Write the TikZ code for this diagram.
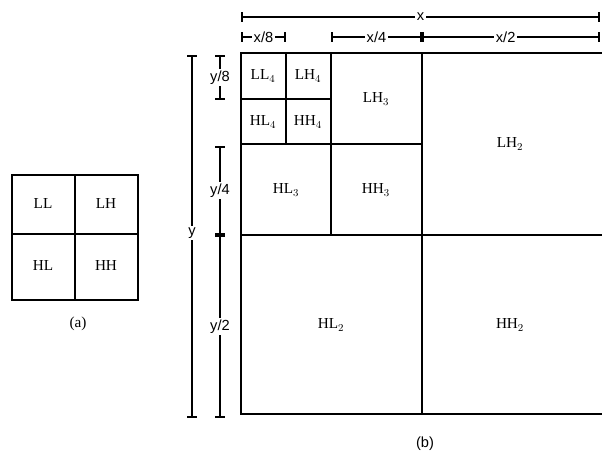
\documentclass[tikz,border=0pt]{standalone}
\usepackage{fontspec}
\setmainfont{Liberation Serif}
\newfontfamily\dimfont{Liberation Sans}
\usetikzlibrary{arrows.meta}

\tikzset{
  band/.style={line width=2.4pt},
  bandlabel/.style={font=\fontsize{13}{15}\selectfont, inner sep=1pt},
  dimline/.style={line width=1.7pt, {Bar[width=8pt,line width=1.7pt]}-{Bar[width=8pt,line width=1.7pt]}},
  dimlabel/.style={fill=white, inner sep=1.5pt, font=\dimfont\fontsize{12.5}{14}\selectfont},
}

\begin{document}
\begin{tikzpicture}[x=0.03cm, y=-0.03cm]
  \useasboundingbox (0,0) rectangle (602,455);

  % (a) one level of decomposition
  \draw[band] (12,175) rectangle (138,300);
  \draw[band] (75,175) -- (75,300);
  \draw[band] (12,234) -- (138,234);
  \node[bandlabel] (ll) at (43,204) {LL};
  \node[bandlabel] (lh) at (106,204) {LH};
  \node[bandlabel] (hl) at (43,266) {HL};
  \node[bandlabel] (hh) at (106,266) {HH};
  \node[bandlabel] (capa) at (78,324) {(a)};

  % (b) three levels of decomposition
  \draw[band] (602,53) -- (241,53) -- (241,414) -- (602,414);
  \draw[band] (422,53) -- (422,414);
  \draw[band] (241,235) -- (602,235);
  \draw[band] (331,53) -- (331,235);
  \draw[band] (241,144) -- (422,144);
  \draw[band] (286,53) -- (286,144);
  \draw[band] (241,99) -- (331,99);

  \node[bandlabel] (ll4) at (263,76) {LL$_4$};
  \node[bandlabel] (lh4) at (308,76) {LH$_4$};
  \node[bandlabel] (hl4) at (263,122) {HL$_4$};
  \node[bandlabel] (hh4) at (308,122) {HH$_4$};
  \node[bandlabel] (lh3) at (376,99) {LH$_3$};
  \node[bandlabel] (hl3) at (286,190) {HL$_3$};
  \node[bandlabel] (hh3) at (376,190) {HH$_3$};
  \node[bandlabel] (lh2) at (510,144) {LH$_2$};
  \node[bandlabel] (hl2) at (331,325) {HL$_2$};
  \node[bandlabel] (hh2) at (510,325) {HH$_2$};
  \node[font=\dimfont\fontsize{12.5}{14}\selectfont] (capb) at (425,444) {(b)};

  % Widths
  \coordinate (xa) at (241,17);
  \coordinate (xb) at (600,17);
  \coordinate (x8a) at (241,37);
  \coordinate (x8b) at (286,37);
  \coordinate (x4a) at (331,37);
  \coordinate (x4b) at (422,37);
  \coordinate (x2b) at (600,37);
  \draw[dimline] (xa) -- node[dimlabel] {x} (xb);
  \draw[dimline] (x8a) -- node[dimlabel] {x/8} (x8b);
  \draw[dimline] (x4a) -- node[dimlabel] {x/4} (x4b);
  \draw[dimline] (x4b) -- node[dimlabel, pos=0.47] {x/2} (x2b);

  % Heights
  \coordinate (ya) at (192,55);
  \coordinate (yb) at (192,418);
  \coordinate (y8a) at (220,55);
  \coordinate (y8b) at (220,100);
  \coordinate (y4a) at (220,146);
  \coordinate (y4b) at (220,235);
  \coordinate (y2b) at (220,418);
  \draw[dimline] (ya) -- node[dimlabel, pos=0.49] {y} (yb);
  \draw[dimline] (y8a) -- node[dimlabel] {y/8} (y8b);
  \draw[dimline] (y4a) -- node[dimlabel] {y/4} (y4b);
  \draw[dimline] (y4b) -- node[dimlabel] {y/2} (y2b);
\end{tikzpicture}
\end{document}
